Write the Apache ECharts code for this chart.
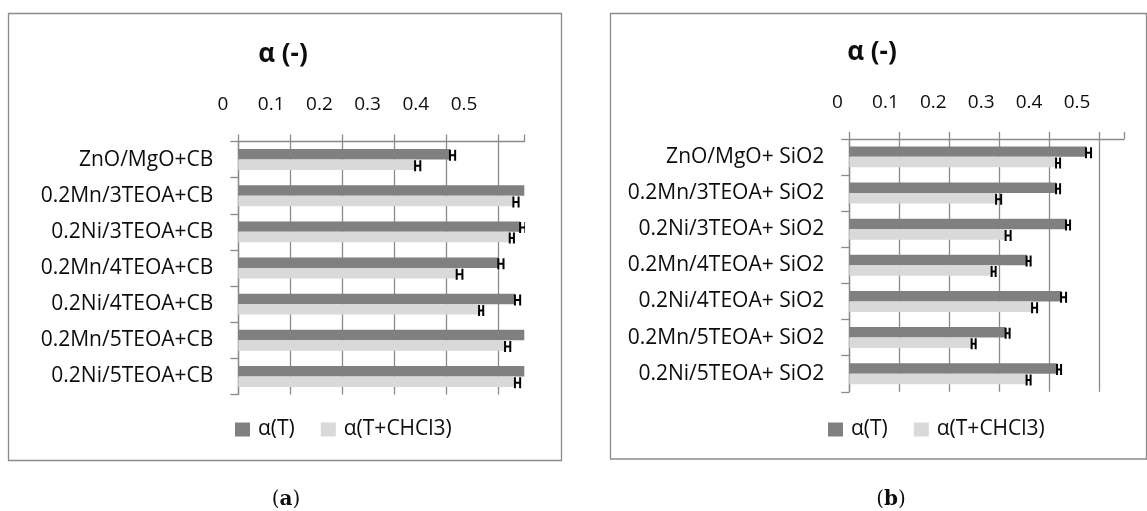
<!DOCTYPE html>
<html>
<head>
<meta charset="utf-8">
<script src="https://cdn.jsdelivr.net/npm/echarts@6/dist/echarts.min.js"></script>
<style>
html,body{margin:0;padding:0;background:#fff;}
#chart{width:1147px;height:511px;}
</style>
</head>
<body>
<div id="chart"></div>
<script>
// ---- data ----
var seriesNames = ['α(T)', 'α(T+CHCl3)'];
var tickLabels = [0, 0.1, 0.2, 0.3, 0.4, 0.5];

var categoriesA = ['ZnO/MgO+CB', '0.2Mn/3TEOA+CB', '0.2Ni/3TEOA+CB', '0.2Mn/4TEOA+CB', '0.2Ni/4TEOA+CB', '0.2Mn/5TEOA+CB', '0.2Ni/5TEOA+CB'];
var alphaT_A  = [0.407, 0.570, 0.542, 0.500, 0.532, 0.570, 0.570];
var alphaTC_A = [0.340, 0.529, 0.522, 0.420, 0.463, 0.513, 0.532];
var errT_A    = [0.010, 0.010, 0.010, 0.010, 0.010, 0.010, 0.010];
var errTC_A   = [0.010, 0.010, 0.008, 0.011, 0.008, 0.010, 0.010];

var categoriesB = ['ZnO/MgO+ SiO2', '0.2Mn/3TEOA+ SiO2', '0.2Ni/3TEOA+ SiO2', '0.2Mn/4TEOA+ SiO2', '0.2Ni/4TEOA+ SiO2', '0.2Mn/5TEOA+ SiO2', '0.2Ni/5TEOA+ SiO2'];
var alphaT_B  = [0.474, 0.414, 0.434, 0.355, 0.424, 0.313, 0.416];
var alphaTC_B = [0.414, 0.294, 0.313, 0.285, 0.366, 0.245, 0.355];
var errT_B    = [0.010, 0.008, 0.008, 0.008, 0.010, 0.008, 0.008];
var errTC_B   = [0.008, 0.010, 0.010, 0.008, 0.010, 0.008, 0.008];

// ---- styles ----
var FONT = 'Open Sans';
var DARK = '#808080', LIGHT = '#d9d9d9', GRID = '#8a8a8a', TXT = '#0d0d0d';
var CAT_GAP = 0.42;

function errData(vals, errs) {
  return vals.map(function (v, i) { return [i, v, errs[i]]; });
}
function errRender(side) {
  return function (params, api) {
    var i = api.value(0), v = api.value(1), e = api.value(2);
    var band = api.size([0, 1])[1];
    var bw = band * (1 - CAT_GAP) / 2;
    var p0 = api.coord([v, i]);
    var p1 = api.coord([v + e, i]);
    var cy = p0[1] + side * bw / 2 + 1;
    var h = 5.5;
    var st = { stroke: '#000', lineWidth: 2 };
    return {
      type: 'group',
      children: [
        { type: 'line', shape: { x1: p0[0], y1: cy - h, x2: p0[0], y2: cy + h }, style: st },
        { type: 'line', shape: { x1: p1[0], y1: cy - h, x2: p1[0], y2: cy + h }, style: st },
        { type: 'line', shape: { x1: p0[0], y1: cy, x2: p1[0], y2: cy }, style: st }
      ]
    };
  };
}

function valueAxis(gridIndex) {
  return {
    type: 'value', gridIndex: gridIndex, position: 'top',
    min: 0, max: 0.55, interval: 0.1,
    axisLine: { show: true, lineStyle: { color: GRID, width: 1.3 } },
    axisTick: { show: true, length: 7, lineStyle: { color: GRID, width: 1.3 } },
    axisLabel: { show: false },
    splitLine: { show: true, showMaxLine: false, lineStyle: { color: GRID, width: 1.3 } }
  };
}
function labelAxis(gridIndex) {
  return {
    type: 'value', gridIndex: gridIndex, position: 'top',
    min: 0, max: 0.5, interval: 0.1,
    axisLine: { show: false }, axisTick: { show: false }, splitLine: { show: false },
    axisLabel: { show: true, margin: 0, fontFamily: FONT, fontSize: 19, color: TXT }
  };
}
function catAxis(gridIndex, cats) {
  return {
    type: 'category', gridIndex: gridIndex, data: cats, inverse: true,
    axisLine: { show: true, lineStyle: { color: GRID, width: 1.3 } },
    axisTick: { show: true, length: 8, lineStyle: { color: GRID, width: 1.3 } },
    axisLabel: { margin: 25, fontFamily: FONT, fontSize: 21, color: TXT },
    splitLine: { show: false }
  };
}
function bars(name, data, color, axisIdx) {
  return {
    type: 'bar', name: name, data: data, xAxisIndex: axisIdx, yAxisIndex: axisIdx,
    barGap: '0%', barCategoryGap: (CAT_GAP * 100) + '%',
    itemStyle: { color: color }, clip: true, silent: true
  };
}
function errs(name, vals, e, side, axisIdx) {
  return {
    type: 'custom', name: name, xAxisIndex: axisIdx, yAxisIndex: axisIdx,
    data: errData(vals, e), encode: { x: 1, y: 0 },
    renderItem: errRender(side), clip: true, silent: true, z: 5
  };
}
function legendAt(left) {
  return {
    left: left, top: 419, padding: 0, icon: 'rect', itemWidth: 15, itemHeight: 14, itemGap: 26,
    textStyle: { fontFamily: FONT, fontSize: 21, color: TXT, padding: [0, 0, 0, 3] },
    data: seriesNames, selectedMode: false
  };
}

var chart = echarts.init(document.getElementById('chart'), null, { renderer: 'canvas' });
var option = {
  animation: false,
  backgroundColor: '#fff',
  grid: [
    { left: 238.3, top: 141.5, width: 286, height: 253 },
    { left: 849.3, top: 138.8, width: 274.7, height: 253 },
    { left: 223, top: 114, width: 241, height: 1 },
    { left: 837.5, top: 112, width: 239.5, height: 1 }
  ],
  xAxis: [valueAxis(0), valueAxis(1), labelAxis(2), labelAxis(3)],
  yAxis: [
    catAxis(0, categoriesA), catAxis(1, categoriesB),
    { type: 'category', gridIndex: 2, show: false, data: ['a'] },
    { type: 'category', gridIndex: 3, show: false, data: ['a'] }
  ],
  legend: [legendAt(235), legendAt(828)],
  series: [
    bars(seriesNames[0], alphaT_A, DARK, 0),
    bars(seriesNames[1], alphaTC_A, LIGHT, 0),
    bars(seriesNames[0], alphaT_B, DARK, 1),
    bars(seriesNames[1], alphaTC_B, LIGHT, 1),
    errs('errT_A', alphaT_A, errT_A, -1, 0),
    errs('errTC_A', alphaTC_A, errTC_A, 1, 0),
    errs('errT_B', alphaT_B, errT_B, -1, 1),
    errs('errTC_B', alphaTC_B, errTC_B, 1, 1)
  ],
  graphic: [
    { type: 'rect', shape: { x: 8.5, y: 13.5, width: 553, height: 447 },
      style: { fill: 'none', stroke: GRID, lineWidth: 1.3 }, silent: true },
    { type: 'rect', shape: { x: 610.5, y: 13.5, width: 536, height: 445.5 },
      style: { fill: 'none', stroke: GRID, lineWidth: 1.3 }, silent: true },
    { type: 'text', x: 283, y: 55, style: { text: 'α (-)', fontFamily: FONT, fontSize: 26, fontWeight: 'bold', fill: TXT, align: 'center', verticalAlign: 'middle' } },
    { type: 'text', x: 872, y: 53, style: { text: 'α (-)', fontFamily: FONT, fontSize: 26, fontWeight: 'bold', fill: TXT, align: 'center', verticalAlign: 'middle' } },
    { type: 'text', x: 286, y: 500, style: { text: '{n|(}{b|a}{n|)}', align: 'center', verticalAlign: 'middle',
      rich: { n: { fontFamily: 'DejaVu Serif', fontSize: 20, fill: TXT }, b: { fontFamily: 'DejaVu Serif', fontSize: 20, fontWeight: 'bold', fill: TXT } } } },
    { type: 'text', x: 891, y: 500, style: { text: '{n|(}{b|b}{n|)}', align: 'center', verticalAlign: 'middle',
      rich: { n: { fontFamily: 'DejaVu Serif', fontSize: 20, fill: TXT }, b: { fontFamily: 'DejaVu Serif', fontSize: 20, fontWeight: 'bold', fill: TXT } } } }
  ]
};
chart.setOption(option);
</script>
</body>
</html>
